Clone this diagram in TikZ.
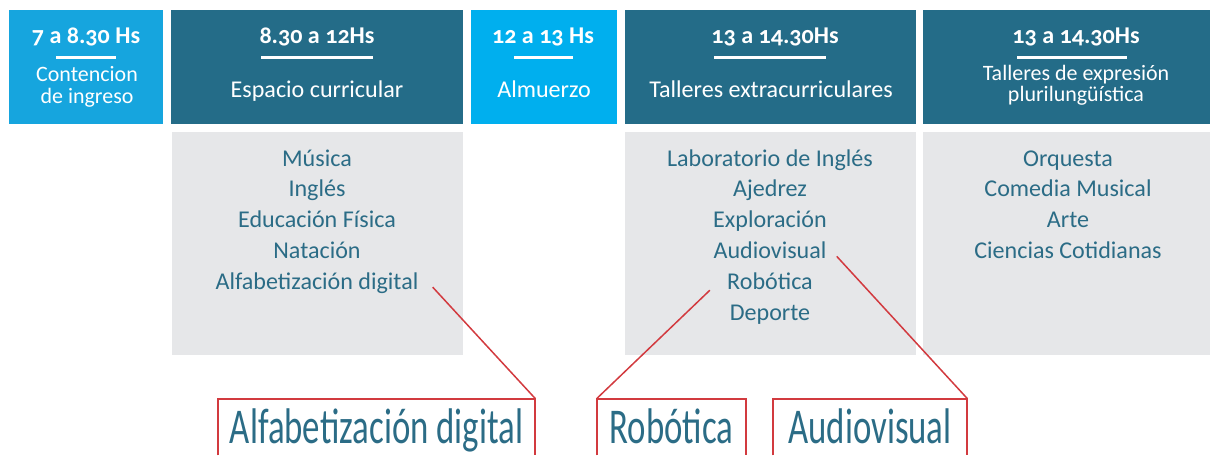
\documentclass[tikz,border=0pt]{standalone}
\usepackage{fontspec}
\setmainfont{Carlito}[Numbers=OldStyle]
\newfontfamily\tallfont{Carlito}[FakeStretch=0.695]
\usetikzlibrary{positioning}

\definecolor{skyA}{HTML}{16A5DE}
\definecolor{skyB}{HTML}{00AFEE}
\definecolor{deepteal}{HTML}{246C88}
\definecolor{paleback}{HTML}{E6E7E9}
\definecolor{inkteal}{HTML}{2B6C86}
\definecolor{calloutred}{HTML}{D23A3F}

\begin{document}
\begin{tikzpicture}[x=0.2mm, y=-0.2mm, every node/.style={inner sep=0pt},
  head/.style={text=white, anchor=base, font=\fontsize{13.7}{16}\selectfont},
  headsmall/.style={head, font=\fontsize{12.5}{14}\selectfont},
  hour/.style={head, font=\fontsize{13.7}{16}\selectfont\bfseries},
  bar/.style={draw=white, line width=0.6mm},
  item/.style={text=inkteal, anchor=base, font=\fontsize{13.7}{16}\selectfont},
  nextitem/.style={item, below=6.16mm of #1.base, anchor=base},
  redbox/.style={text=inkteal, anchor=base, text height=8.8mm, text depth=2.4mm,
    font=\tallfont\fontsize{28.5}{30}\selectfont},
  callout/.style={draw=calloutred, line width=0.3mm},
  boxline/.style={draw=calloutred, line width=0.4mm}]
  \useasboundingbox (0,0) rectangle (1210,455);

  % header blocks
  \fill[skyA]     (9,10)   rectangle (163,124);
  \fill[deepteal] (171,10) rectangle (463,124);
  \fill[skyB]     (471,10) rectangle (617,124);
  \fill[deepteal] (625,10) rectangle (916,124);
  \fill[deepteal] (923,10) rectangle (1210,124);
  % grey lists
  \fill[paleback] (172,132) rectangle (463,355);
  \fill[paleback] (625,132) rectangle (916,355);
  \fill[paleback] (923,132) rectangle (1210,355);

  \node[hour] (h1) at (86,43)   {7 a 8.30 Hs};
  \node[hour] (h2) at (317,43)  {8.30 a 12Hs};
  \node[hour] (h3) at (543,43)  {12 a 13 Hs};
  \node[hour] (h4) at (775,43)  {13 a 14.30Hs};
  \node[hour] (h5) at (1076,43) {13 a 14.30Hs};

  \draw[bar] (56,57)   -- (116,57);
  \draw[bar] (261,57)  -- (373,57);
  \draw[bar] (514,57)  -- (573,57);
  \draw[bar] (714,57)  -- (826,57);
  \draw[bar] (1017,57) -- (1127,57);

  \node[headsmall] (s1a) at (87,81)    {Contencion};
  \node[headsmall] (s1b) at (87,103)   {de ingreso};
  \node[head]      (s2)  at (317,97)   {Espacio curricular};
  \node[head]      (s3)  at (544,97)   {Almuerzo};
  \node[head]      (s4)  at (771,97)   {Talleres extracurriculares};
  \node[headsmall] (s5a) at (1076,80)  {Talleres de expresión};
  \node[headsmall] (s5b) at (1076,101) {plurilungüística};

  % curricular
  \node[item] (c1) at (317,166) {Música};
  \node[nextitem=c1] (c2) {Inglés};
  \node[nextitem=c2] (c3) {Educación Física};
  \node[nextitem=c3] (c4) {Natación};
  \node[nextitem=c4] (c5) {Alfabetización digital};

  % extracurriculares
  \node[item] (t1) at (770,166) {Laboratorio de Inglés};
  \node[nextitem=t1] (t2) {Ajedrez};
  \node[nextitem=t2] (t3) {Exploración};
  \node[nextitem=t3] (t4) {Audiovisual};
  \node[nextitem=t4] (t5) {Robótica};
  \node[nextitem=t5] (t6) {Deporte};

  % plurilingüe
  \node[item] (p1) at (1068,166) {Orquesta};
  \node[nextitem=p1] (p2) {Comedia Musical};
  \node[nextitem=p2] (p3) {Arte};
  \node[nextitem=p3] (p4) {Ciencias Cotidianas};

  % highlighted workshops
  \node[redbox, minimum width=63.4mm] (alfa)  at (376.5,443) {Alfabetización digital};
  \node[redbox, minimum width=29.8mm] (robo)  at (671.5,443) {Robótica};
  \node[redbox, minimum width=38.8mm] (audio) at (870,443)   {Audiovisual};
  \draw[boxline] (alfa.south west)  |- (alfa.north east)  -- (alfa.south east);
  \draw[boxline] (robo.south west)  |- (robo.north east)  -- (robo.south east);
  \draw[boxline] (audio.south west) |- (audio.north east) -- (audio.south east);

  \draw[callout] ([xshift=2.8mm,yshift=0.4mm]c5.base east) -- (alfa.north east);
  \draw[callout] ([xshift=-3.4mm,yshift=-0.2mm]t5.base west) -- (robo.north west);
  \draw[callout] ([xshift=2mm,yshift=0.4mm]t4.base east) -- (audio.north east);
\end{tikzpicture}
\end{document}
